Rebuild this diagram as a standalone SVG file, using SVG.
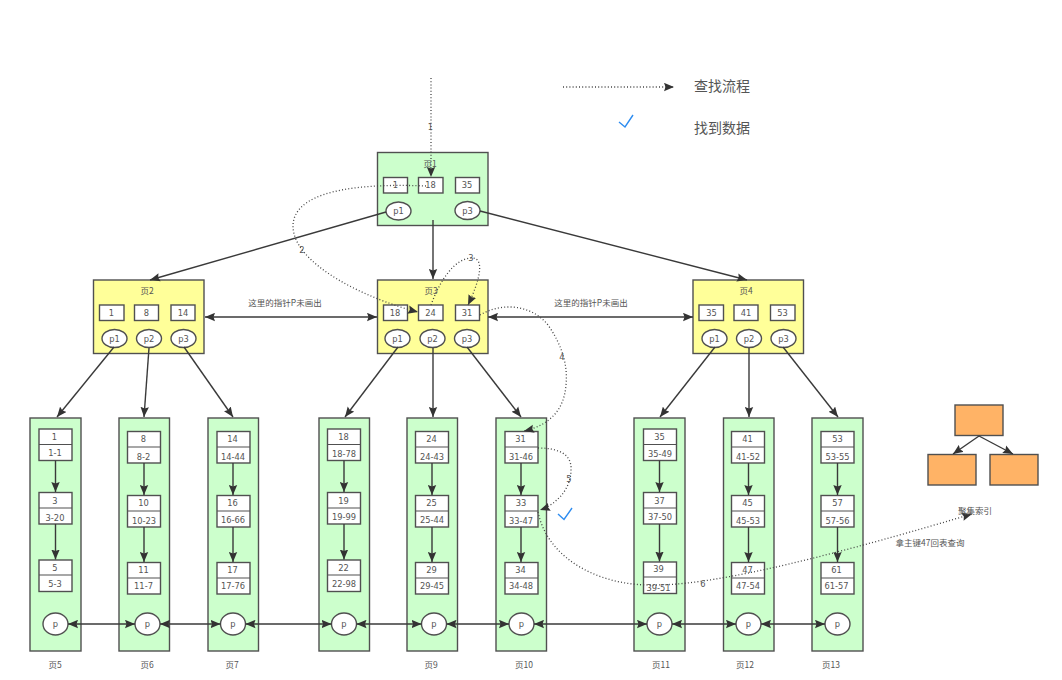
<svg xmlns="http://www.w3.org/2000/svg" width="1062" height="680" viewBox="0 0 1062 680">
<style>
text{font-family:"DejaVu Sans","Noto Sans CJK SC",sans-serif;font-size:8.3px;fill:#555;text-anchor:middle}
.cjk{font-family:"Noto Sans CJK SC",sans-serif;font-size:8.5px}
.big{font-family:"Noto Sans CJK SC",sans-serif;font-size:14px;text-anchor:start}
rect,ellipse{stroke:#505050;stroke-width:1.4}
.g{fill:#ccffcc}.y{fill:#ffff99}.w{fill:#fff}.o{fill:#ffb366}
ellipse{fill:#fff}
.c{fill:none;stroke:#3a3a3a;stroke-width:1.4}
.s{fill:none;stroke:#505050;stroke-width:1.2}
.d{fill:none;stroke:#444;stroke-width:1.3;stroke-dasharray:1 2.2}
.a{marker-end:url(#m)}
.b{marker-start:url(#s);marker-end:url(#m)}
.k{fill:none;stroke:#2d8cf0;stroke-width:1.4}
</style>
<defs>
<marker id="m" markerUnits="userSpaceOnUse" markerWidth="11" markerHeight="9" refX="10" refY="4.5" orient="auto"><path d="M0 0.3L10 4.5L0 8.700L1.500 4.500Z" fill="#333"/></marker>
<marker id="s" markerUnits="userSpaceOnUse" markerWidth="11" markerHeight="9" refX="0" refY="4.5" orient="auto"><path d="M10 0.3L0 4.5L10 8.700L8.500 4.500Z" fill="#333"/></marker>
</defs>

<g id="page1"><rect class="g" x="377.5" y="152.5" width="110.5" height="73"/><text class="cjk" x="430" y="167">页1</text>
<rect class="w" x="383.5" y="177.5" width="24" height="15.5"/><text x="395.5" y="188">1</text>
<rect class="w" x="418.5" y="177.5" width="24.5" height="15.5"/><text x="430.5" y="188">18</text>
<rect class="w" x="455.5" y="177.5" width="24" height="15.5"/><text x="467" y="188">35</text>
<ellipse cx="398.5" cy="211" rx="12.5" ry="9"/><text x="398.5" y="214">p1</text>
<ellipse cx="467.5" cy="210.5" rx="12.5" ry="9"/><text x="467.5" y="214">p3</text></g>

<g id="page2"><rect class="y" x="93.5" y="280" width="110.5" height="73.5"/><text class="cjk" x="147" y="294">页2</text>
<rect class="w" x="99.5" y="305" width="24.5" height="15.5"/><text x="111.5" y="316">1</text>
<rect class="w" x="134.5" y="305" width="24" height="15.5"/><text x="146.5" y="316">8</text>
<rect class="w" x="171" y="305" width="24" height="15.5"/><text x="183" y="316">14</text>
<ellipse cx="114.5" cy="338.5" rx="12.5" ry="9"/><text x="114.5" y="341.5">p1</text>
<ellipse cx="149" cy="338.5" rx="12.5" ry="9"/><text x="149" y="341.5">p2</text>
<ellipse cx="183.5" cy="338.5" rx="12.5" ry="9"/><text x="183.5" y="341.5">p3</text></g>

<g id="page3"><rect class="y" x="377.5" y="280" width="110.5" height="73.5"/><text class="cjk" x="431" y="294">页3</text>
<rect class="w" x="383.5" y="305" width="24" height="15.5"/><text x="395" y="316">18</text>
<rect class="w" x="418.5" y="305" width="24.5" height="15.5"/><text x="430.5" y="316">24</text>
<rect class="w" x="455.5" y="305" width="24" height="15.5"/><text x="467" y="316">31</text>
<ellipse cx="397.5" cy="338.5" rx="12.5" ry="9"/><text x="397.5" y="341.5">p1</text>
<ellipse cx="432.5" cy="338.5" rx="12.5" ry="9"/><text x="432.5" y="341.5">p2</text>
<ellipse cx="467" cy="338.5" rx="12.5" ry="9"/><text x="467" y="341.5">p3</text></g>

<g id="page4"><rect class="y" x="693" y="280" width="110.5" height="73.5"/><text class="cjk" x="746" y="294">页4</text>
<rect class="w" x="699" y="305" width="24.5" height="15.5"/><text x="711.5" y="316">35</text>
<rect class="w" x="734" y="305" width="24" height="15.5"/><text x="746" y="316">41</text>
<rect class="w" x="770.5" y="305" width="24.5" height="15.5"/><text x="782.5" y="316">53</text>
<ellipse cx="714.5" cy="338.5" rx="12.5" ry="9"/><text x="714.5" y="341.5">p1</text>
<ellipse cx="749" cy="338.5" rx="12.5" ry="9"/><text x="749" y="341.5">p2</text>
<ellipse cx="783.5" cy="338.5" rx="12.5" ry="9"/><text x="783.5" y="341.5">p3</text></g>

<g id="page5"><rect class="g" x="30" y="418" width="51" height="233"/>
<rect class="w" x="39" y="429" width="33" height="31.5"/><path class="s" d="M39 444.5H72"/><text x="54.500" y="440">1</text><text x="55" y="456">1-1</text>
<rect class="w" x="39" y="492.500" width="33" height="31.500"/><path class="s" d="M39 508H72"/><text x="55" y="504">3</text><text x="55" y="521">3-20</text>
<rect class="w" x="39" y="560" width="33" height="31.500"/><path class="s" d="M39 575H72"/><text x="55" y="570.500">5</text><text x="55" y="586.500">5-3</text>
<ellipse cx="55.500" cy="624" rx="12.500" ry="11"/><text x="55.500" y="627">p</text>
<text class="cjk" x="55" y="668">页5</text></g>

<g id="page6"><rect class="g" x="119" y="418" width="50.500" height="233"/>
<rect class="w" x="127.500" y="431.500" width="33" height="31.500"/><path class="s" d="M127.500 447H160.500"/><text x="143.500" y="442">8</text><text x="143.500" y="460">8-2</text>
<rect class="w" x="127.500" y="495.500" width="33" height="31.500"/><path class="s" d="M127.500 511H160.500"/><text x="143.500" y="506">10</text><text x="144" y="524">10-23</text>
<rect class="w" x="127.500" y="562.500" width="33" height="31.500"/><path class="s" d="M127.500 578H160.500"/><text x="143.500" y="573">11</text><text x="143.500" y="589">11-7</text>
<ellipse cx="147.500" cy="624" rx="12.500" ry="11"/><text x="147.500" y="627">p</text>
<text class="cjk" x="147" y="668">页6</text></g>

<g id="page7"><rect class="g" x="208" y="418" width="50.500" height="233"/>
<rect class="w" x="217" y="431.500" width="33" height="31.500"/><path class="s" d="M217 447H250"/><text x="232.500" y="442">14</text><text x="233" y="460">14-44</text>
<rect class="w" x="217" y="495.500" width="33" height="31.500"/><path class="s" d="M217 511H250"/><text x="232.500" y="506">16</text><text x="233" y="523">16-66</text>
<rect class="w" x="217" y="562.500" width="33" height="31.500"/><path class="s" d="M217 578H250"/><text x="232.500" y="573">17</text><text x="233" y="589">17-76</text>
<ellipse cx="233" cy="624" rx="12.500" ry="11"/><text x="233" y="627">p</text>
<text class="cjk" x="232" y="668">页7</text></g>

<g id="page8"><rect class="g" x="319" y="418" width="50.500" height="233"/>
<rect class="w" x="327.500" y="429" width="33" height="31.500"/><path class="s" d="M327.500 444.500H360.500"/><text x="343.500" y="440">18</text><text x="344" y="457">18-78</text>
<rect class="w" x="327.500" y="492.500" width="33" height="31.500"/><path class="s" d="M327.500 508H360.500"/><text x="343.500" y="504">19</text><text x="344" y="520">19-99</text>
<rect class="w" x="327.500" y="560" width="33" height="31.500"/><path class="s" d="M327.500 575H360.500"/><text x="343.500" y="570.500">22</text><text x="344" y="586.500">22-98</text>
<ellipse cx="344" cy="624" rx="12.500" ry="11"/><text x="344" y="627">p</text></g>

<g id="page9"><rect class="g" x="407" y="418" width="50.500" height="233"/>
<rect class="w" x="415.500" y="431.500" width="33" height="31.500"/><path class="s" d="M415.500 447H448.500"/><text x="431.500" y="442">24</text><text x="432" y="460">24-43</text>
<rect class="w" x="415.500" y="495.500" width="33" height="31.500"/><path class="s" d="M415.500 511H448.500"/><text x="431.500" y="506">25</text><text x="432" y="523">25-44</text>
<rect class="w" x="415.500" y="562.500" width="33" height="31.500"/><path class="s" d="M415.500 578H448.500"/><text x="431.500" y="573">29</text><text x="432" y="589">29-45</text>
<ellipse cx="434" cy="624" rx="12.500" ry="11"/><text x="434" y="627">p</text>
<text class="cjk" x="431" y="668">页9</text></g>

<g id="page10"><rect class="g" x="496" y="418" width="50.500" height="233"/>
<rect class="w" x="505" y="431.500" width="33" height="31.500"/><path class="s" d="M505 447H538"/><text x="520.500" y="442">31</text><text x="521" y="460">31-46</text>
<rect class="w" x="505" y="495.500" width="33" height="31.500"/><path class="s" d="M505 511H538"/><text x="521" y="506">33</text><text x="521" y="524">33-47</text>
<rect class="w" x="505" y="562.500" width="33" height="31.500"/><path class="s" d="M505 578H538"/><text x="520.500" y="573">34</text><text x="521" y="589">34-48</text>
<ellipse cx="521.500" cy="624" rx="12.500" ry="11"/><text x="521.500" y="627">p</text>
<text class="cjk" x="524" y="668">页10</text></g>

<g id="page11"><rect class="g" x="634" y="418" width="51" height="233"/>
<rect class="w" x="643.500" y="429" width="33" height="31.500"/><path class="s" d="M643.500 444.500H676.500"/><text x="659.500" y="440">35</text><text x="660" y="457">35-49</text>
<rect class="w" x="643.500" y="492.500" width="33" height="31.500"/><path class="s" d="M643.500 508H676.500"/><text x="659.500" y="503.500">37</text><text x="660" y="519.500">37-50</text>
<rect class="w" x="643.500" y="562" width="33" height="31.500"/><path class="s" d="M643.500 577H676.500"/><text x="658.500" y="572">39</text><text x="658.500" y="591">39-51</text>
<ellipse cx="659.500" cy="624" rx="12.500" ry="11"/><text x="659.500" y="627">p</text>
<text class="cjk" x="661" y="668">页11</text></g>

<g id="page12"><rect class="g" x="723.500" y="418" width="50.500" height="233"/>
<rect class="w" x="731.500" y="431.500" width="33" height="31.500"/><path class="s" d="M731.500 447H764.500"/><text x="747.500" y="442">41</text><text x="748" y="460">41-52</text>
<rect class="w" x="731.500" y="495.500" width="33" height="31.500"/><path class="s" d="M731.500 511H764.500"/><text x="747.500" y="506">45</text><text x="748" y="524">45-53</text>
<rect class="w" x="731.500" y="562.500" width="33" height="31.500"/><path class="s" d="M731.500 578H764.500"/><text x="747.500" y="573">47</text><text x="748" y="588.500">47-54</text>
<ellipse cx="748.500" cy="624" rx="12.500" ry="11"/><text x="748.500" y="627">p</text>
<text class="cjk" x="745" y="668">页12</text></g>

<g id="page13"><rect class="g" x="812" y="418" width="51" height="233"/>
<rect class="w" x="821" y="431.500" width="33" height="31.500"/><path class="s" d="M821 447H854"/><text x="837.500" y="442">53</text><text x="837.500" y="460">53-55</text>
<rect class="w" x="821" y="495.500" width="33" height="31.500"/><path class="s" d="M821 511H854"/><text x="837.500" y="506">57</text><text x="837.500" y="524">57-56</text>
<rect class="w" x="821" y="562.500" width="33" height="31.500"/><path class="s" d="M821 578H854"/><text x="836.500" y="573">61</text><text x="836.500" y="588.500">61-57</text>
<ellipse cx="837.500" cy="624" rx="12.500" ry="11"/><text x="837.500" y="627">p</text>
<text class="cjk" x="831" y="668">页13</text></g>

<g id="cluster-top"><rect class="o" x="955" y="405" width="48" height="30.500"/></g>
<g id="cluster-left"><rect class="o" x="928" y="454.500" width="48" height="30.500"/></g>
<g id="cluster-right"><rect class="o" x="990" y="454.500" width="48" height="30.500"/></g>

<g id="connectors">
<path class="c a" d="M386 212L150 280"/><path class="c a" d="M433 220V279"/><path class="c a" d="M480 211L747 280"/>
<path class="c a" d="M114 347L57 417"/><path class="c a" d="M149 348L144 417"/><path class="c a" d="M184 347L233 417"/>
<path class="c a" d="M398 347L345 417"/><path class="c a" d="M433 348V417"/><path class="c a" d="M467 347L521 417"/>
<path class="c a" d="M715 347L660 417"/><path class="c a" d="M749 348V417"/><path class="c a" d="M783 347L838 417"/>
<path class="c b" d="M205 317H377"/><path class="c b" d="M488 317H693"/>
<path class="c a" d="M55.500 460.500V492"/><path class="c a" d="M55.500 524V559.500"/>
<path class="c a" d="M144 463V495"/><path class="c a" d="M144 527V562"/>
<path class="c a" d="M233 463V495"/><path class="c a" d="M233 527V562"/>
<path class="c a" d="M344 460.500V492"/><path class="c a" d="M344 524V559.500"/>
<path class="c a" d="M432 463V495"/><path class="c a" d="M432 527V562"/>
<path class="c a" d="M521 463V495"/><path class="c a" d="M521 527V562"/>
<path class="c a" d="M659.500 460.500V492"/><path class="c a" d="M659.500 524V561.500"/>
<path class="c a" d="M748.500 463V495"/><path class="c a" d="M748.500 527V562"/>
<path class="c a" d="M837.500 463V495"/><path class="c a" d="M837.500 527V562"/>
<path class="c b" d="M68 624H135"/><path class="c b" d="M160 624H220.500"/><path class="c b" d="M245.500 624H331.500"/><path class="c b" d="M356.500 624H421.500"/><path class="c b" d="M446.500 624H509"/><path class="c b" d="M534 624H647"/><path class="c b" d="M672 624H736"/><path class="c b" d="M761 624H825"/>
<path class="c a" d="M979 436L953 454"/><path class="c a" d="M979 436L1013 454"/>
<path class="d a" d="M431 78V177"/>
<path class="d a" d="M426 186C380 184 295 185 293 225C292 265 370 300 418 312"/>
<path class="d a" d="M431 305C440 280 455 258 472 258C485 258 480 280 468 305"/>
<path class="d a" d="M480 315C500 303 530 303 548 325C562 345 568 365 566 385C564 410 550 425 524 431"/>
<path class="d a" d="M538 448C560 448 572 455 571 470C571 490 555 505 540 510"/>
<path class="d a" d="M538 512C548 560 600 585 650 585C705 586 800 565 972 514"/>
<path class="d a" d="M563 87H674"/>
</g>

<text x="430.500" y="130">1</text><text x="302" y="253">2</text><text x="471" y="261">3</text><text x="562" y="360">4</text><text x="569" y="482">5</text><text x="703" y="587">6</text>
<text class="cjk" x="285" y="306">这里的指针P未画出</text>
<text class="cjk" x="591" y="306">这里的指针P未画出</text>
<text class="cjk" x="975" y="514">聚集索引</text>
<text class="cjk" x="930" y="546">拿主键47回表查询</text>
<text class="big" x="694" y="91">查找流程</text>
<text class="big" x="694" y="133">找到数据</text>
<path class="k" d="M619 122L625 127L633 115"/>
<path class="k" d="M558 514L564 519.500L572 508"/>
</svg>
